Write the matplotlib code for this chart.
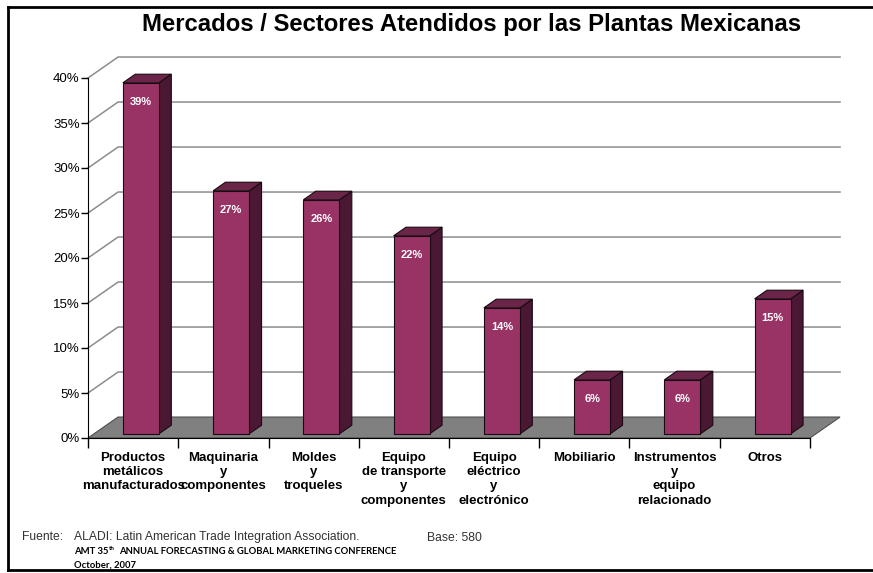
import numpy as np
import matplotlib
matplotlib.use("Agg")
import matplotlib.pyplot as plt
from matplotlib.patches import Polygon
from matplotlib.lines import Line2D

plt.rcParams['font.family'] = ['Liberation Sans', 'DejaVu Sans']

categories = ["Productos\nmetálicos\nmanufacturados",
              "Maquinaria\ny\ncomponentes",
              "Moldes\ny\ntroqueles",
              "Equipo\nde transporte\ny\ncomponentes",
              "Equipo\neléctrico\ny\nelectrónico",
              "Mobiliario",
              "Instrumentos\ny\nequipo\nrelacionado",
              "Otros"]
values = [39, 27, 26, 22, 14, 6, 6, 15]
yticks = [0, 5, 10, 15, 20, 25, 30, 35, 40]

W, H = 873, 573
fig = plt.figure(figsize=(W / 100, H / 100), dpi=100)
fig.patch.set_facecolor("white")

# frame: top, left and bottom edges only
for xs, ys in [([8, W], [7, 7]), ([8, 8], [7, 570]), ([8, W], [570, 570])]:
    fig.add_artist(Line2D([x / W for x in xs], [1 - y / H for y in ys],
                          transform=fig.transFigure, color="black", lw=2))

fig.text(472 / W, 1 - 24 / H, "Mercados / Sectores Atendidos por las Plantas Mexicanas",
         ha="center", va="center", fontsize=17.2, fontweight="bold")

ax = fig.add_axes([88 / W, (H - 438) / H, 722 / W, 360 / H])
n = len(values)
ax.set_xlim(0, n)
ax.set_ylim(0, 40)

# depth of the 3-d box in data units
DX, DY = 0.333, 2.33

# left wall and back wall gridlines
for v in yticks[1:]:
    ax.plot([0, DX, n + DX], [v, v + DY, v + DY], color="#8c8c8c", lw=1.1,
            clip_on=False, zorder=1)

# floor
ax.add_patch(Polygon([(0, 0), (n, 0), (n + DX, DY), (DX, DY)], closed=True,
                     facecolor="#808080", edgecolor="#4d4d4d", lw=0.8,
                     clip_on=False, zorder=2))

front_c, side_c, top_c = "#993366", "#4a1832", "#6b2548"
z0, dz = 0.2, 0.41
gap, bw = 0.32, 0.40
for i, v in enumerate(values):
    x0 = i + gap + z0 * DX
    y0 = z0 * DY
    x1 = x0 + bw
    y1 = y0 + v
    ox, oy = dz * DX, dz * DY
    kw = dict(closed=True, edgecolor="#1a0a12", lw=0.8, clip_on=False, zorder=3)
    ax.add_patch(Polygon([(x1, y0), (x1 + ox, y0 + oy), (x1 + ox, y1 + oy), (x1, y1)],
                         facecolor=side_c, **kw))
    ax.add_patch(Polygon([(x0, y1), (x1, y1), (x1 + ox, y1 + oy), (x0 + ox, y1 + oy)],
                         facecolor=top_c, **kw))
    ax.add_patch(Polygon([(x0, y0), (x1, y0), (x1, y1), (x0, y1)],
                         facecolor=front_c, **kw))
    ax.text((x0 + x1) / 2, y1 - 2.1, f"{v}%", ha="center", va="center",
            color="white", fontsize=8, fontweight="bold", zorder=4)

for s in ["top", "right"]:
    ax.spines[s].set_visible(False)
ax.spines["left"].set_bounds(0, 40)
ax.spines["left"].set_zorder(5)
ax.spines["bottom"].set_zorder(5)
ax.patch.set_visible(False)

ax.set_yticks(yticks)
ax.set_yticklabels([f"{v}%" for v in yticks], fontsize=9.5)
ax.tick_params(axis="y", length=5, width=1, pad=1)

ax.set_xticks(np.arange(n + 1))
ax.set_xticklabels([])
ax.set_xticks(np.arange(n) + 0.5, minor=True)
ax.set_xticklabels(categories, minor=True, fontsize=9.5, fontweight="bold",
                   linespacing=1.25, va="top")
ax.tick_params(axis="x", which="major", length=7, width=1)
ax.tick_params(axis="x", which="minor", length=0, pad=10)

# source notes
foot = dict(color="#333333", fontsize=8.7, va="center")
fig.text(22 / W, 1 - 537 / H, "Fuente:", **foot)
fig.text(74 / W, 1 - 537 / H, "ALADI: Latin American Trade Integration Association.", **foot)
fig.text(427 / W, 1 - 538 / H, "Base: 580", **foot)
small = dict(fontsize=6.8, fontweight="bold", family=["Lato", "DejaVu Sans"], color="black")
t1 = fig.text(74 / W, 1 - 551 / H, "AMT 35", va="center", **small)
ax.annotate("th", xy=(1, 0.55), xycoords=t1, xytext=(0.5, 0), textcoords="offset points",
            va="bottom", ha="left", fontsize=4.5, fontweight="bold",
            family=["Lato", "DejaVu Sans"], annotation_clip=False)
ax.annotate("ANNUAL FORECASTING & GLOBAL MARKETING CONFERENCE", xy=(1, 0.5), xycoords=t1,
            xytext=(7.5, 0), textcoords="offset points", va="center", ha="left",
            annotation_clip=False, **small)
fig.text(74 / W, 1 - 565 / H, "October, 2007", va="center", **small)

fig.savefig("out.png", dpi=100)
